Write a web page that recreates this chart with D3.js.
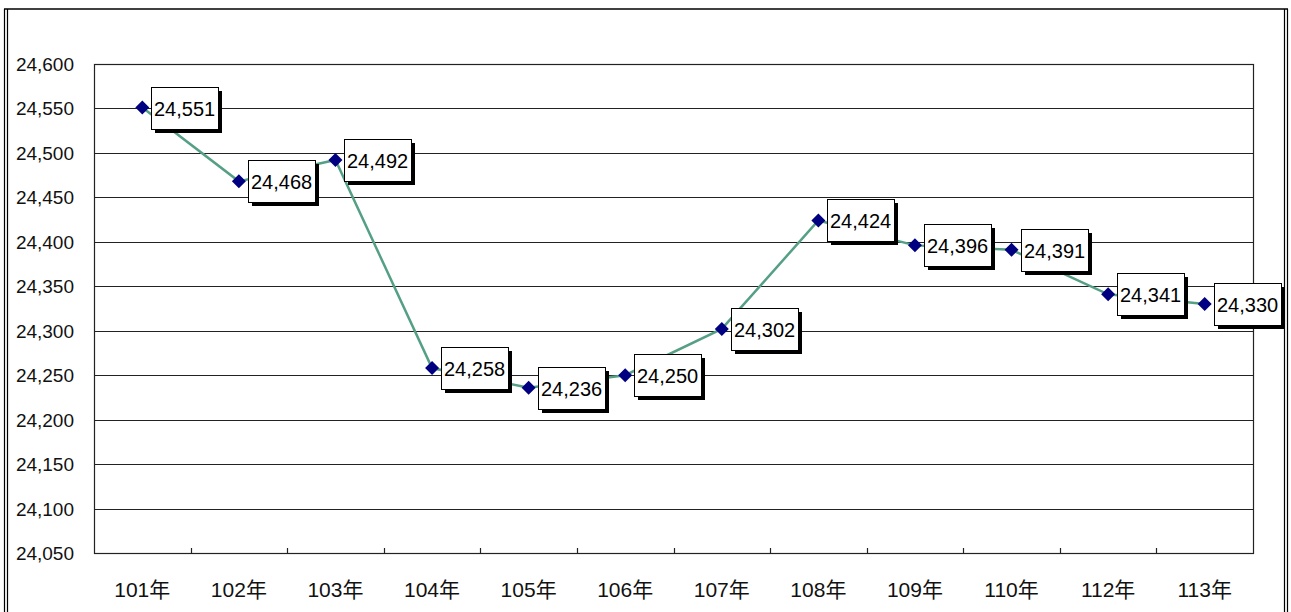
<!DOCTYPE html>
<html>
<head>
<meta charset="utf-8">
<script src="https://cdn.jsdelivr.net/npm/d3@7"></script>
<style>
  html, body { margin: 0; padding: 0; background: #fff; }
</style>
</head>
<body>
<div id="chart"></div>
<script>
const years = ["101年", "102年", "103年", "104年", "105年", "106年", "107年", "108年", "109年", "110年", "112年", "113年"];
const values = [24551, 24468, 24492, 24258, 24236, 24250, 24302, 24424, 24396, 24391, 24341, 24330];
const yTicks = [24050, 24100, 24150, 24200, 24250, 24300, 24350, 24400, 24450, 24500, 24550, 24600];

const w = 1291, h = 612;
const plot = { left: 94, top: 64, right: 1253, bottom: 553 };
const font = "'Liberation Sans', Arial, 'Noto Sans CJK TC', sans-serif";

const svg = d3.select("#chart")
  .append("svg")
  .attr("width", w)
  .attr("height", h)
  .style("display", "block")
  .style("background", "#fff");

// outer frame: single line on top, double lines on the sides
const frame = svg.append("g").attr("stroke", "#000").attr("fill", "none");
frame.append("line").attr("x1", 4).attr("x2", 1288).attr("y1", 9).attr("y2", 9).attr("stroke-width", 1.5);
[4.5, 7.5, 1284.5, 1287.5].forEach((x) => {
  frame.append("line").attr("x1", x).attr("x2", x).attr("y1", 9).attr("y2", h).attr("stroke-width", 1.2);
});

const x = d3.scaleBand()
  .domain(years)
  .range([plot.left, plot.right]);

const y = d3.scaleLinear()
  .domain([24050, 24600])
  .range([plot.bottom, plot.top]);

// horizontal gridlines
svg.append("g")
  .selectAll("line")
  .data(yTicks)
  .enter()
  .append("line")
  .attr("x1", plot.left)
  .attr("x2", plot.right)
  .attr("y1", (d) => Math.round(y(d)) + 0.5)
  .attr("y2", (d) => Math.round(y(d)) + 0.5)
  .attr("stroke", "#222")
  .attr("stroke-width", 1.2);

// plot border
svg.append("rect")
  .attr("x", plot.left + 0.5)
  .attr("y", plot.top + 0.5)
  .attr("width", plot.right - plot.left)
  .attr("height", plot.bottom - plot.top)
  .attr("fill", "none")
  .attr("stroke", "#222")
  .attr("stroke-width", 1.2);

// y axis labels
svg.append("g")
  .selectAll("text")
  .data(yTicks)
  .enter()
  .append("text")
  .attr("x", 74)
  .attr("y", (d) => y(d) + 7)
  .attr("text-anchor", "end")
  .style("font-family", font)
  .style("font-size", "19px")
  .style("fill", "#111")
  .text((d) => d3.format(",")(d));

// x tick marks at band boundaries (pointing into the plot)
svg.append("g")
  .selectAll("line")
  .data(years.slice(1))
  .enter()
  .append("line")
  .attr("x1", (d) => Math.round(x(d)) + 0.5)
  .attr("x2", (d) => Math.round(x(d)) + 0.5)
  .attr("y1", plot.bottom - 5)
  .attr("y2", plot.bottom)
  .attr("stroke", "#222")
  .attr("stroke-width", 1.2);

// x labels
svg.append("g")
  .selectAll("text")
  .data(years)
  .enter()
  .append("text")
  .attr("x", (d) => x(d) + x.bandwidth() / 2)
  .attr("y", 597)
  .attr("text-anchor", "middle")
  .style("font-family", font)
  .style("font-size", "21px")
  .style("fill", "#111")
  .text((d) => d);

const pts = years.map((d, i) => ({ year: d, value: values[i], px: x(d) + x.bandwidth() / 2, py: y(values[i]) }));

// line
svg.append("path")
  .datum(pts)
  .attr("d", d3.line().x((d) => d.px).y((d) => d.py))
  .attr("fill", "none")
  .attr("stroke", "#55a085")
  .attr("stroke-width", 2.5);

// markers
svg.append("g")
  .selectAll("path")
  .data(pts)
  .enter()
  .append("path")
  .attr("transform", (d) => `translate(${d.px},${d.py})`)
  .attr("d", "M0,-7L7,0L0,7L-7,0Z")
  .attr("fill", "#000080");

// data labels with drop shadow
const boxW = 67, boxH = 42;
const lab = svg.append("g")
  .selectAll("g")
  .data(pts)
  .enter()
  .append("g")
  .attr("transform", (d) => `translate(${Math.round(d.px + 9)},${Math.round(d.py - boxH / 2)})`);

lab.append("rect")
  .attr("x", 4)
  .attr("y", 4)
  .attr("width", boxW)
  .attr("height", boxH)
  .attr("fill", "#000");

lab.append("rect")
  .attr("x", 0.5)
  .attr("y", 0.5)
  .attr("width", boxW)
  .attr("height", boxH)
  .attr("fill", "#fff")
  .attr("stroke", "#000")
  .attr("stroke-width", 1);

lab.append("text")
  .attr("x", 3)
  .attr("y", boxH / 2 + 8)
  .style("font-family", font)
  .style("font-size", "20px")
  .style("fill", "#000")
  .text((d) => d3.format(",")(d.value));
</script>
</body>
</html>
